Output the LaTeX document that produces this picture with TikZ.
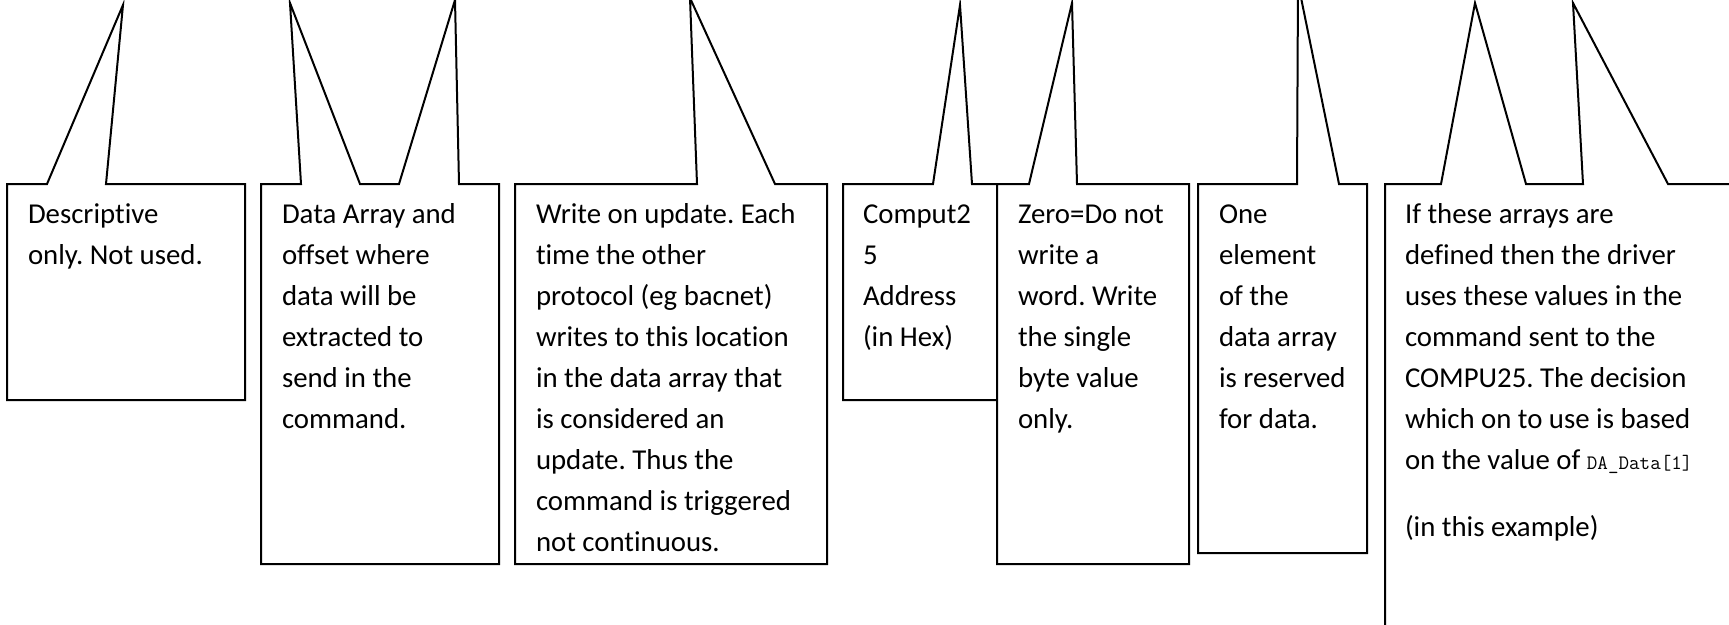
\documentclass[tikz,border=0pt]{standalone}
\usepackage{fontspec}
\setmainfont{Carlito}[Ligatures=NoCommon]
\frenchspacing
\newcommand{\calltext}[2]{\parbox[t]{#1}{\raggedright\frenchspacing\fontsize{28.8pt}{41pt}\selectfont #2}}
\tikzset{
  callbox/.style={draw=black, fill=white, line width=2pt, line join=miter},
  txt/.style={anchor=base west, inner sep=0pt, outer sep=0pt}
}
\begin{document}
\begin{tikzpicture}[x=1pt, y=-1pt]
\useasboundingbox (0,0) rectangle (1729,624);
\clip (0,0) rectangle (1729,624);
% box 1
\draw[callbox] (7,184) -- (47,184) -- (123,5) -- (106,184) -- (245,184) -- (245,400) -- (7,400) -- cycle;
% box 2
\draw[callbox] (261,184) -- (301,184) -- (290,3) -- (360,184) -- (399,184) -- (455,0) -- (459,184) -- (499,184) -- (499,564) -- (261,564) -- cycle;
% box 3
\draw[callbox] (515,184) -- (697,184) -- (690,-2) -- (775,184) -- (827,184) -- (827,564) -- (515,564) -- cycle;
% box 4
\draw[callbox] (843,184) -- (933,184) -- (960,5) -- (972,184) -- (1010,184) -- (1010,400) -- (843,400) -- cycle;
% box 5
\draw[callbox] (997,184) -- (1029,184) -- (1072,3) -- (1077,184) -- (1189,184) -- (1189,564) -- (997,564) -- cycle;
% box 6
\draw[callbox] (1198,184) -- (1297,184) -- (1298,-17) -- (1339,184) -- (1367,184) -- (1367,553) -- (1198,553) -- cycle;
% box 7
\draw[callbox] (1385,184) -- (1441,184) -- (1475,3) -- (1526,184) -- (1583,184) -- (1573,3) -- (1668,184) -- (1745,184) -- (1745,640) -- (1385,640) -- cycle;

\node[txt] (t1) at (28,223) {\calltext{210pt}{Descriptive\\only. Not used.}};
\node[txt] (t2) at (282,223) {\calltext{210pt}{Data Array and\\offset where\\data will be\\extracted to\\send in the\\command.}};
\node[txt] (t3) at (536,223) {\calltext{285pt}{Write on update. Each\\time the other\\protocol (eg bacnet)\\writes to this location\\in the data array that\\is considered an\\update. Thus the\\command is triggered\\not continuous.}};
\node[txt] (t4) at (863,223) {\calltext{130pt}{Comput2\\5\\Address\\(in Hex)}};
\node[txt] (t5) at (1018,223) {\calltext{165pt}{Zero=Do not\\write a\\word. Write\\the single\\byte value\\only.}};
\node[txt] (t6) at (1219,223) {\calltext{140pt}{One\\element\\of the\\data array\\is reserved\\for data.}};
\node[txt] (t7) at (1405,223) {\calltext{320pt}{If these arrays are\\defined then the driver\\uses these values in the\\command sent to the\\COMPU25. The decision\\which on to use is based\\on the value of {\ttfamily\fontsize{20.5pt}{41pt}\selectfont DA\_Data[1]}\\[26pt](in this example)}};
\end{tikzpicture}
\end{document}
